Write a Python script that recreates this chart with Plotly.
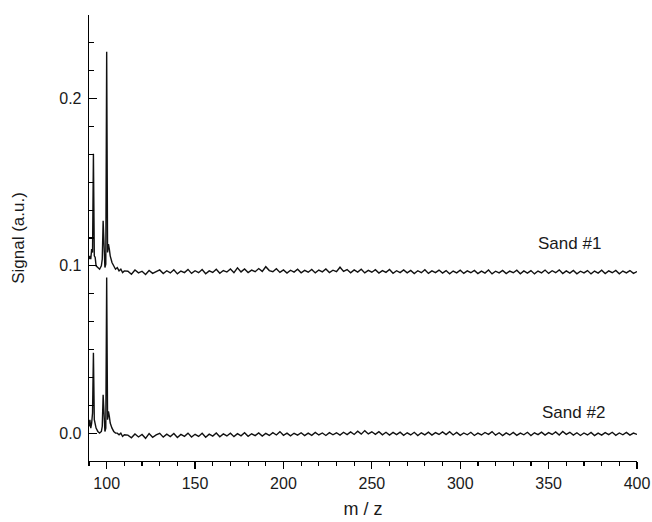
import plotly.graph_objects as go

# m/z grid: fine near the peaks, then every 2 units
mz_peak = [90.0, 90.5, 91.0, 91.5, 92.0, 92.5, 93.0, 93.5, 94.0, 95.0, 96.0, 97.0, 97.5, 98.0, 98.5,
           99.0, 99.5, 100.0, 100.5, 101.0, 101.5, 102.0, 103.0, 104.0, 105.0, 106.0, 107.0, 108.0,
           109.0, 110.0]
mz_base = list(range(112, 401, 2))
mz = mz_peak + mz_base

sand1_peak = [0.104, 0.106, 0.104, 0.110, 0.108, 0.167, 0.106, 0.105, 0.100, 0.099, 0.098, 0.100,
              0.104, 0.127, 0.103, 0.099, 0.101, 0.228, 0.108, 0.113, 0.110, 0.106, 0.102, 0.100,
              0.098, 0.099, 0.097, 0.098, 0.096, 0.097]
sand1_base = [
    0.0968, 0.0950, 0.0975, 0.0958, 0.0968, 0.0948, 0.0972, 0.0955, 0.0967, 0.0976,
    0.0954, 0.0971, 0.0958, 0.0977, 0.0952, 0.0969, 0.0960, 0.0979, 0.0955, 0.0971,
    0.0959, 0.0978, 0.0953, 0.0970, 0.0961, 0.0980, 0.0956, 0.0972, 0.0963, 0.0981,
    0.0959, 0.0988, 0.0964, 0.0982, 0.0960, 0.0975, 0.0965, 0.0984, 0.0967, 0.0995,
    0.0972, 0.0965, 0.0983, 0.0961, 0.0976, 0.0957, 0.0974, 0.0963, 0.0980, 0.0959,
    0.0973, 0.0962, 0.0979, 0.0958, 0.0975, 0.0964, 0.0981, 0.0960, 0.0974, 0.0965,
    0.0992, 0.0967, 0.0978, 0.0959, 0.0976, 0.0963, 0.0980, 0.0958, 0.0973, 0.0962,
    0.0977, 0.0957, 0.0972, 0.0961, 0.0978, 0.0956, 0.0971, 0.0960, 0.0976, 0.0958,
    0.0973, 0.0954, 0.0971, 0.0959, 0.0977, 0.0955, 0.0970, 0.0960, 0.0975, 0.0957,
    0.0972, 0.0953, 0.0969, 0.0958, 0.0974, 0.0955, 0.0970, 0.0959, 0.0973, 0.0954,
    0.0969, 0.0957, 0.0975, 0.0952, 0.0968, 0.0958, 0.0973, 0.0954, 0.0969, 0.0959,
    0.0974, 0.0953, 0.0970, 0.0957, 0.0972, 0.0952, 0.0969, 0.0958, 0.0975, 0.0955,
    0.0971, 0.0959, 0.0976, 0.0954, 0.0970, 0.0957, 0.0973, 0.0953, 0.0968, 0.0958,
    0.0972, 0.0952, 0.0969, 0.0957, 0.0974, 0.0954, 0.0970, 0.0959, 0.0973, 0.0953,
    0.0969, 0.0958, 0.0972, 0.0955, 0.0966]
sand1 = sand1_peak + sand1_base

sand2_peak = [0.004, 0.008, 0.003, 0.006, 0.012, 0.048, 0.008, 0.006, 0.003, 0.001, 0.000, 0.001,
              0.004, 0.023, 0.004, 0.001, 0.003, 0.093, 0.008, 0.013, 0.010, 0.006, 0.003, 0.001,
              0.000, 0.000, -0.001, 0.000, -0.002, -0.001]
sand2_base = [
    -0.0012, -0.0028, -0.0005, -0.0023, -0.0008, -0.0031, -0.0003, -0.0025, -0.0011, -0.0001,
    -0.0024, -0.0006, -0.0021, -0.0002, -0.0026, -0.0008, -0.0019, 0.0000, -0.0023, -0.0007,
    -0.0020, -0.0001, -0.0025, -0.0006, -0.0018, 0.0001, -0.0022, -0.0005, -0.0017, 0.0000,
    -0.0021, -0.0003, -0.0016, 0.0002, -0.0019, -0.0004, -0.0015, 0.0001, -0.0018, -0.0002,
    -0.0014, 0.0003, -0.0011, 0.0009, -0.0013, 0.0000, -0.0016, -0.0001, -0.0012, 0.0002,
    -0.0015, 0.0000, -0.0013, 0.0004, -0.0011, 0.0001, -0.0014, 0.0003, -0.0010, 0.0002,
    -0.0012, 0.0005, -0.0009, 0.0007, -0.0008, 0.0011, -0.0006, 0.0015, -0.0005, 0.0008,
    -0.0007, 0.0009, -0.0010, 0.0005, -0.0012, 0.0004, -0.0009, 0.0006, -0.0013, 0.0002,
    -0.0011, 0.0005, -0.0014, 0.0002, -0.0010, 0.0006, -0.0012, 0.0003, -0.0008, 0.0007,
    -0.0009, 0.0008, -0.0011, 0.0004, -0.0013, 0.0001, -0.0010, 0.0005, -0.0014, 0.0000,
    -0.0011, 0.0004, -0.0007, 0.0009, -0.0012, 0.0002, -0.0015, 0.0001, -0.0011, 0.0004,
    -0.0013, 0.0000, -0.0010, 0.0005, -0.0014, 0.0002, -0.0009, 0.0006, -0.0012, 0.0003,
    -0.0008, 0.0007, -0.0011, 0.0010, -0.0007, 0.0005, -0.0012, 0.0002, -0.0014, 0.0001,
    -0.0011, 0.0004, -0.0015, 0.0000, -0.0012, 0.0003, -0.0009, 0.0005, -0.0013, 0.0001,
    -0.0010, 0.0004, -0.0012, 0.0000, -0.0008]
sand2 = sand2_peak + sand2_base

labels = ["Sand #1", "Sand #2"]
label_x = [362, 364]
label_y = [0.1135, 0.0125]

x_ticks = [100, 150, 200, 250, 300, 350, 400]
y_ticks = [0.0, 0.1, 0.2]

FONT = "Liberation Sans, Arial, sans-serif"
INK = "#1a1a1a"

fig = go.Figure()
for ys in (sand1, sand2):
    fig.add_trace(go.Scatter(x=mz, y=ys, mode="lines",
                             line=dict(color="#111111", width=1.4),
                             showlegend=False, hoverinfo="skip"))

for t, lx, ly in zip(labels, label_x, label_y):
    fig.add_annotation(x=lx, y=ly, text=t, showarrow=False,
                       font=dict(family=FONT, size=17, color=INK))

fig.update_layout(
    width=652, height=522,
    margin=dict(l=89, r=15, t=15, b=61, autoexpand=False),
    paper_bgcolor="white", plot_bgcolor="white",
    font=dict(family=FONT, color=INK),
    xaxis=dict(range=[90, 400], tickvals=x_ticks, ticks="outside", ticklen=7, tickwidth=1.2,
               tickcolor="black", showline=True, linecolor="black", linewidth=1.3,
               showgrid=False, zeroline=False, automargin=False,
               tickfont=dict(size=16, family=FONT, color=INK),
               minor=dict(dtick=10, tick0=0, ticks="outside", ticklen=4, tickcolor="black",
                          tickwidth=1.2, showgrid=False),
               title=dict(text="m / z", font=dict(size=18, family=FONT, color=INK), standoff=12)),
    yaxis=dict(range=[-1/60, 0.25], tickvals=y_ticks, tickformat=".1f", ticks="inside",
               ticklen=8, tickwidth=1.2, tickcolor="black", showline=True, linecolor="black",
               linewidth=1.3, showgrid=False, zeroline=False, automargin=False,
               ticklabelstandoff=3,
               tickfont=dict(size=16, family=FONT, color=INK),
               minor=dict(dtick=0.1/6, tick0=0, ticks="inside", ticklen=5, tickcolor="black",
                          tickwidth=1.2, showgrid=False),
               title=dict(text="Signal (a.u.)", font=dict(size=17, family=FONT, color=INK),
                          standoff=30)),
)

# remove the page's default 8px body margin so the figure fills the window exactly
fig.write_html("out.html", config={"displayModeBar": False, "staticPlot": True},
               post_script="document.body.style.margin='0';document.body.style.overflow='hidden';")
